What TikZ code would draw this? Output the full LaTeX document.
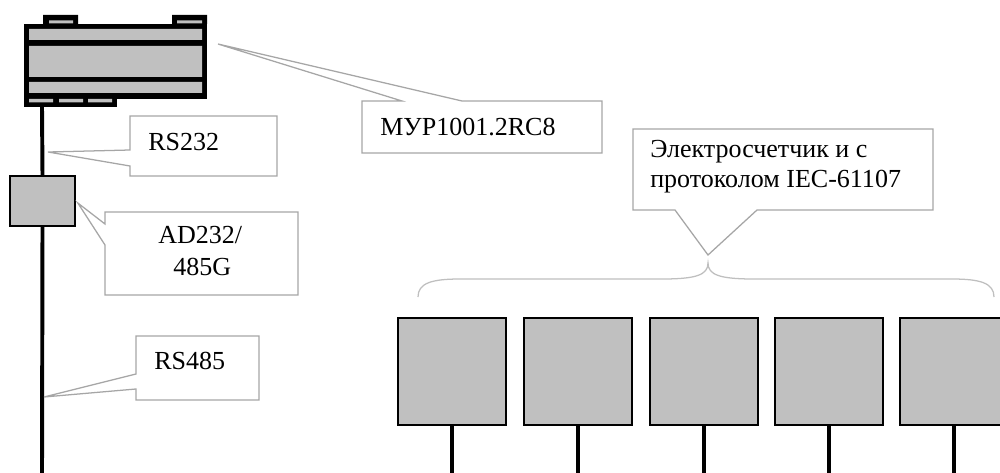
\documentclass[tikz,border=0pt]{standalone}
\usepackage{fontspec}
\setmainfont{Liberation Serif}
\usetikzlibrary{calc}
\definecolor{devgray}{HTML}{C0C0C0}
\definecolor{callgray}{HTML}{A6A6A6}
\definecolor{bracegray}{HTML}{BFBFBF}
\tikzset{
  device/.style={fill=devgray, draw=black, line width=1.4pt, inner sep=0pt},
  callout/.style={draw=callgray, line width=0.9pt, fill=white, line join=miter},
  bus/.style={line width=2.8pt},
  lbl/.style={font=\fontsize{18.5}{22}\selectfont, inner sep=0pt, anchor=base west},
}
\begin{document}
\begin{tikzpicture}[x=0.025cm, y=-0.025cm]
	\useasboundingbox (0,0) rectangle (1000,473);
	% controller
	\fill (24,24) rectangle (207,99);
	\fill[devgray] (29,29) rectangle (202,40) (29,46) rectangle (202,77) (29,82) rectangle (202,93);
	\fill (43,15) rectangle (78,24) (172,15) rectangle (207,24);
	\fill[devgray] (49,20.5) rectangle (73,23.5) (177,20.5) rectangle (202,23.5);
	\fill (24,93) rectangle (117,107);
	\fill[devgray] (29,99) rectangle (53,102.5) (59,99) rectangle (83,102.5) (88,99) rectangle (112,102.5);
	\coordinate (busTop) at (42,107);
	\coordinate (busEnd) at (42,473);
	\coordinate (plcTip) at (218,44);
	% converter and bus
	\node[device, minimum width=46pt, minimum height=35.5pt] (conv) at (42.5,201) {};
	\draw[bus] (busTop) -- (conv.north) (conv.south) -- (busEnd);
	% meters
	\foreach \i/\x in {1/452,2/578,3/704,4/829,5/954}{
		\node[device, minimum width=77pt, minimum height=76.5pt] (m\i) at (\x,371.5) {};
		\coordinate (g\i) at (\x,473);
		\draw[bus] (m\i.south) -- (g\i);
	}
	% callouts
	\draw[callout] (402,101) -- (plcTip) -- (462,101) -- (602,101) -- (602,153) -- (362,153) -- (362,101) -- cycle;
	\node[lbl] (plc) at (380,136) {МУР1001.2RC8};
	\coordinate (rs232Tip) at (48,152);
	\draw[callout] (130,150) -- (rs232Tip) -- (130,166) -- (130,176) -- (277,176) -- (277,116) -- (130,116) -- cycle;
	\node[lbl] (rs232) at (148,150) {RS232};
	\coordinate (convTip) at ($(conv.east)+(2,2)$);
	\draw[callout] (105,224) -- (convTip) -- (105,245) -- (105,295) -- (298,295) -- (298,212) -- (105,212) -- cycle;
	\node[lbl] (conv1) at (158,243) {AD232/};
	\node[lbl] (conv2) at (173,275) {485G};
	\coordinate (rs485Tip) at (44,397);
	\draw[callout] (136,374) -- (rs485Tip) -- (136,389) -- (136,400) -- (259,400) -- (259,336) -- (136,336) -- cycle;
	\node[lbl] (rs485) at (154,369) {RS485};
	\coordinate (braceTip) at (708,255);
	\draw[callout] (675,210) -- (braceTip) -- (757,210) -- (933,210) -- (933,129) -- (633,129) -- (633,210) -- cycle;
	\node[lbl] (meter1) at (650,157) {Электросчетчик и с};
	\node[lbl] (meter2) at (650,187) {протоколом IEC-61107};
	% brace over meters
	\draw[bracegray, line width=0.9pt] (418,297) .. controls (418,283) and (432,279) .. (460,279) -- (662,279)
		.. controls (696,279) and (708,275) .. (708,263) .. controls (708,275) and (720,279) .. (754,279) -- (952,279)
		.. controls (980,279) and (994,283) .. (994,297);
\end{tikzpicture}
\end{document}
